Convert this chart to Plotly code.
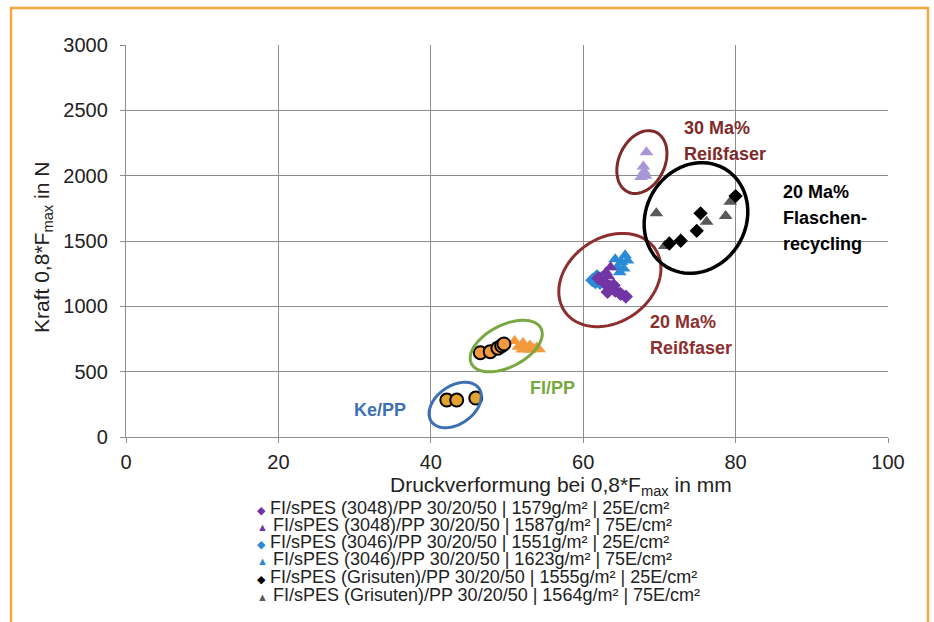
import math
import plotly.graph_objects as go

# ---- data: compression (mm) and force (N) per series ----
ke_pp_x = [42.1, 43.4, 45.9]
ke_pp_y = [283, 283, 298]

fl_pp_circ_x = [46.5, 47.8, 48.8, 49.3, 49.6]
fl_pp_circ_y = [645, 653, 680, 698, 712]
fl_pp_tri_x = [51.0, 51.5, 52.1, 52.0, 52.5, 53.0, 53.0, 53.5, 53.9, 54.2]
fl_pp_tri_y = [735, 690, 720, 670, 680, 700, 668, 675, 685, 672]

s3048_25_x = [62.0, 62.8, 63.5, 64.2, 64.9, 65.6, 63.2, 64.0]
s3048_25_y = [1215, 1180, 1150, 1120, 1095, 1075, 1110, 1160]
s3048_75_x = [63.0, 63.6, 63.3]
s3048_75_y = [1260, 1300, 1230]
s3046_25_x = [61.2, 61.8, 62.4, 62.2, 61.6]
s3046_25_y = [1200, 1230, 1215, 1180, 1185]
s3046_75_x = [64.5, 65.0, 65.5, 64.8, 65.8, 64.2, 65.3]
s3046_75_y = [1300, 1340, 1390, 1260, 1350, 1360, 1290]

r30_x = [68.3, 67.9, 67.6, 68.2, 68.0]
r30_y = [2180, 2070, 1990, 2000, 2030]

gris_25_x = [71.3, 72.8, 74.9, 75.4, 80.0]
gris_25_y = [1481, 1502, 1578, 1712, 1844]
gris_75_x = [69.6, 70.7, 76.2, 78.7, 79.3]
gris_75_y = [1712, 1461, 1647, 1691, 1800]

legend_labels = [
    "FI/sPES (3048)/PP 30/20/50 | 1579g/m² | 25E/cm²",
    "FI/sPES (3048)/PP 30/20/50 | 1587g/m² | 75E/cm²",
    "FI/sPES (3046)/PP 30/20/50 | 1551g/m² | 25E/cm²",
    "FI/sPES (3046)/PP 30/20/50 | 1623g/m² | 75E/cm²",
    "FI/sPES (Grisuten)/PP 30/20/50 | 1555g/m² | 25E/cm²",
    "FI/sPES (Grisuten)/PP 30/20/50 | 1564g/m² | 75E/cm²",
]
legend_symbols = ["◆", "▲", "◆", "▲", "◆", "▲"]

PURPLE = "#7334a4"
LILAC = "#a996d6"
BLUE = "#2a8ad6"
BLACK = "#000000"
GREY = "#595959"
ORANGE = "#f39a3e"
GOLD = "#e2a332"
legend_colors = [PURPLE, PURPLE, BLUE, BLUE, BLACK, GREY]

# ---- layout geometry (pixels) ----
W, H = 934, 622
L, R, T, B = 126, 888, 45, 437
XMAX, YMAX = 100, 3000
FONT = "Liberation Sans, Arial, sans-serif"


def to_x(px):
    return (px - L) / (R - L) * XMAX


def to_y(py):
    return (B - py) / (B - T) * YMAX


def to_px(x):
    return L + x / XMAX * (R - L)


def to_py(y):
    return B - y / YMAX * (B - T)


def pap_x(px):
    return (px - L) / (R - L)


def pap_y(py):
    return (B - py) / (B - T)


def ellipse_path(cx, cy, a, b, ang_deg, n=72):
    """Tilted ellipse centred on data (cx, cy), semi-axes a, b in screen pixels."""
    th = math.radians(ang_deg)
    cpx, cpy = to_px(cx), to_py(cy)
    pts = []
    for i in range(n + 1):
        t = 2 * math.pi * i / n
        ux = a * math.cos(t)
        uy = b * math.sin(t)
        px = cpx + ux * math.cos(th) - uy * math.sin(th)
        py = cpy - (ux * math.sin(th) + uy * math.cos(th))
        pts.append((to_x(px), to_y(py)))
    d = "M " + " L ".join(f"{x:.4f},{y:.3f}" for x, y in pts) + " Z"
    return d


fig = go.Figure()


def add(xs, ys, symbol, color, size, line=None):
    fig.add_trace(go.Scatter(
        x=xs, y=ys, mode="markers", showlegend=False,
        marker=dict(symbol=symbol, color=color, size=size,
                    line=line or dict(width=0)),
    ))


add(fl_pp_tri_x, fl_pp_tri_y, "triangle-up", ORANGE, 12)
add(fl_pp_circ_x, fl_pp_circ_y, "circle", ORANGE, 13, dict(width=2, color="black"))
add(ke_pp_x, ke_pp_y, "circle", GOLD, 13, dict(width=2, color="black"))
add(s3046_25_x, s3046_25_y, "diamond", BLUE, 11)
add(s3046_75_x, s3046_75_y, "triangle-up", BLUE, 12)
add(s3048_75_x, s3048_75_y, "triangle-up", PURPLE, 12)
add(s3048_25_x, s3048_25_y, "diamond", PURPLE, 11)
add(r30_x, r30_y, "triangle-up", LILAC, 12)
add(gris_75_x, gris_75_y, "triangle-up", GREY, 12)
add(gris_25_x, gris_25_y, "diamond", BLACK, 11)

shapes = [
    dict(type="path", xref="x", yref="y", path=ellipse_path(43.2, 245, 29, 19, 35),
         line=dict(color="#3d6fb4", width=3)),
    dict(type="path", xref="x", yref="y", path=ellipse_path(49.9, 696, 39, 21, 27),
         line=dict(color="#78a940", width=3)),
    dict(type="path", xref="x", yref="y", path=ellipse_path(63.5, 1201, 55, 42, 35),
         line=dict(color="#8e2e2e", width=3)),
    dict(type="path", xref="x", yref="y", path=ellipse_path(67.7, 2104, 33, 23, 65),
         line=dict(color="#7e2a2a", width=3)),
    dict(type="path", xref="x", yref="y", path=ellipse_path(74.8, 1676, 57, 50, 60),
         line=dict(color="#000000", width=3.5)),
    # orange page frame
    dict(type="rect", xref="paper", yref="paper",
         x0=pap_x(11), x1=pap_x(928), y0=pap_y(660), y1=pap_y(8),
         line=dict(color="#f5a63e", width=2.5), layer="below"),
]

annotations = []


def text(px, py, s, color, size=18, anchor="left", bold=True, angle=0):
    annotations.append(dict(
        x=pap_x(px), y=pap_y(py), xref="paper", yref="paper",
        text=f"<b>{s}</b>" if bold else s, showarrow=False,
        xanchor=anchor, yanchor="middle", textangle=angle,
        font=dict(family=FONT, size=size, color=color),
    ))


# cluster labels
text(352, 410, "Ke/PP", "#3d6fb4")
text(528, 388, "FI/PP", "#78a940")
text(682, 128, "30 Ma%", "#7e2a2a")
text(682, 154, "Reißfaser", "#7e2a2a")
text(648, 322, "20 Ma%", "#8e2e2e")
text(648, 348, "Reißfaser", "#8e2e2e")
text(781, 192, "20 Ma%", "#000000")
text(781, 218, "Flaschen-", "#000000")
text(781, 244, "recycling", "#000000")

# axis titles
text(561, 486, "Druckverformung bei 0,8*F<sub>max</sub> in mm", "#222222",
     size=21, anchor="center", bold=False)
text(43, 248, "Kraft 0,8*F<sub>max</sub> in N", "#222222",
     size=21, anchor="center", bold=False, angle=-90)

# legend rows
row_y = [508, 525, 542, 559, 577, 595]
for lab, sym, col, yy in zip(legend_labels, legend_symbols, legend_colors, row_y):
    annotations.append(dict(
        x=pap_x(255), y=pap_y(yy), xref="paper", yref="paper",
        text=f"<span style='color:{col};font-size:11px'>{sym}</span> {lab}",
        showarrow=False, xanchor="left", yanchor="middle",
        font=dict(family=FONT, size=18, color="#222222"),
    ))

axis_common = dict(
    showgrid=True, gridcolor="#8c8c8c", gridwidth=1.3,
    showline=True, linecolor="#8c8c8c", linewidth=1.3,
    ticks="outside", ticklen=5, tickcolor="#8c8c8c", tickwidth=1.3,
    tickfont=dict(family=FONT, size=20, color="#222222"),
    zeroline=False,
)

fig.update_layout(
    width=W, height=H,
    margin=dict(l=L, r=W - R, t=T, b=H - B),
    paper_bgcolor="white", plot_bgcolor="white",
    xaxis=dict(range=[0, XMAX], dtick=20, ticklabelstandoff=2, **axis_common),
    yaxis=dict(range=[0, YMAX], dtick=500, ticklabelstandoff=8, **axis_common),
    shapes=shapes, annotations=annotations,
    showlegend=False,
)

fig.write_html("out.html")
